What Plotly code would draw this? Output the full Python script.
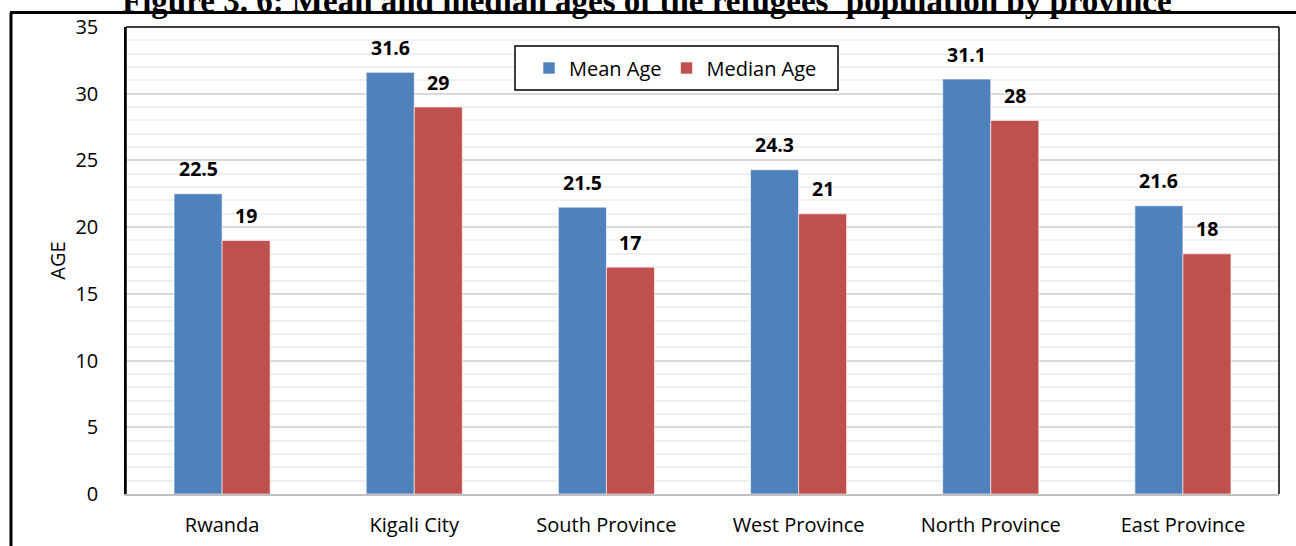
import plotly.graph_objects as go

provinces = ["Rwanda", "Kigali City", "South Province", "West Province",
             "North Province", "East Province"]
mean_age = [22.5, 31.6, 21.5, 24.3, 31.1, 21.6]
median_age = [19, 29, 17, 21, 28, 18]

W, H = 1296, 546
L, R, T, B = 126, 17, 27, 52
pw, ph = W - L - R, H - T - B


def px(x):
    return (x - L) / pw


def py(y):
    return 1 - (y - T) / ph


font = "'Open Sans', sans-serif"

fig = go.Figure()
fig.add_bar(x=provinces, y=mean_age, name="Mean Age",
            marker=dict(color="#4F81BD", line=dict(color="rgba(255,255,255,0.6)", width=1)))
fig.add_bar(x=provinces, y=median_age, name="Median Age",
            marker=dict(color="#C0504D", line=dict(color="rgba(255,255,255,0.6)", width=1)))

# value labels above each bar
bw = pw / len(provinces) * 0.25
for vals, shift in ((mean_age, -bw / 2), (median_age, bw / 2)):
    for cat, v in zip(provinces, vals):
        fig.add_annotation(x=cat, y=v, text=f"<b>{v:g}</b>", showarrow=False,
                           xshift=shift, yshift=25, yanchor="middle",
                           font=dict(family=font, size=19.5, color="black"))

# title (partly cut off at the top, as in the source)
fig.add_annotation(xref="paper", yref="paper", x=px(647), y=py(21), yanchor="bottom",
                   text="<b>Figure 3. 6: Mean and median ages of the refugees' population by province</b>",
                   showarrow=False, font=dict(family="Liberation Serif, serif", size=33, color="black"))

# outer frame lines + plot border
line_k = dict(color="black", width=3)
fig.add_shape(type="line", xref="paper", yref="paper", x0=px(10), x1=px(1300),
              y0=py(12.5), y1=py(12.5), line=line_k)
fig.add_shape(type="line", xref="paper", yref="paper", x0=px(11), x1=px(11),
              y0=py(12.5), y1=py(560), line=line_k)
for x0, y0, x1, y1 in ((0, 0, 0, 1), (0, 1, 1, 1), (1, 1, 1, 0)):
    fig.add_shape(type="line", xref="paper", yref="paper", x0=x0, y0=y0, x1=x1, y1=y1,
                  line=dict(color="black", width=1.5))
# legend box
fig.add_shape(type="rect", xref="paper", yref="paper", x0=px(515), x1=px(838),
              y0=py(46), y1=py(90), line=dict(color="black", width=1.5), fillcolor="white",
              layer="above")

fig.update_layout(
    width=W, height=H,
    margin=dict(l=L, r=R, t=T, b=B, autoexpand=False),
    paper_bgcolor="white", plot_bgcolor="white",
    barmode="group", bargap=0.5, bargroupgap=0,
    font=dict(family=font, size=20, color="black"),
    legend=dict(orientation="h", x=px(529), y=py(68), xanchor="left", yanchor="middle",
                borderwidth=0, bgcolor="rgba(0,0,0,0)", font=dict(size=20)),
    showlegend=True,
)
fig.update_xaxes(showline=True, linecolor="#bfbfbf", linewidth=2, ticks="",
                 tickfont=dict(size=20), ticklabelstandoff=12, automargin=False)
fig.update_yaxes(range=[0, 35], dtick=5, showgrid=True, gridcolor="#d9d9d9", gridwidth=1.5,
                 minor=dict(dtick=1, showgrid=True, gridcolor="#efefef", gridwidth=1.5),
                 showline=True, linecolor="black", linewidth=1.5, zeroline=False,
                 ticks="", tickfont=dict(size=20), ticklabelstandoff=22, automargin=False,
                 title=dict(text="AGE", font=dict(size=20), standoff=4))

fig.write_html("out.html", config={"displayModeBar": False},
               post_script="document.body.style.margin='0';")
